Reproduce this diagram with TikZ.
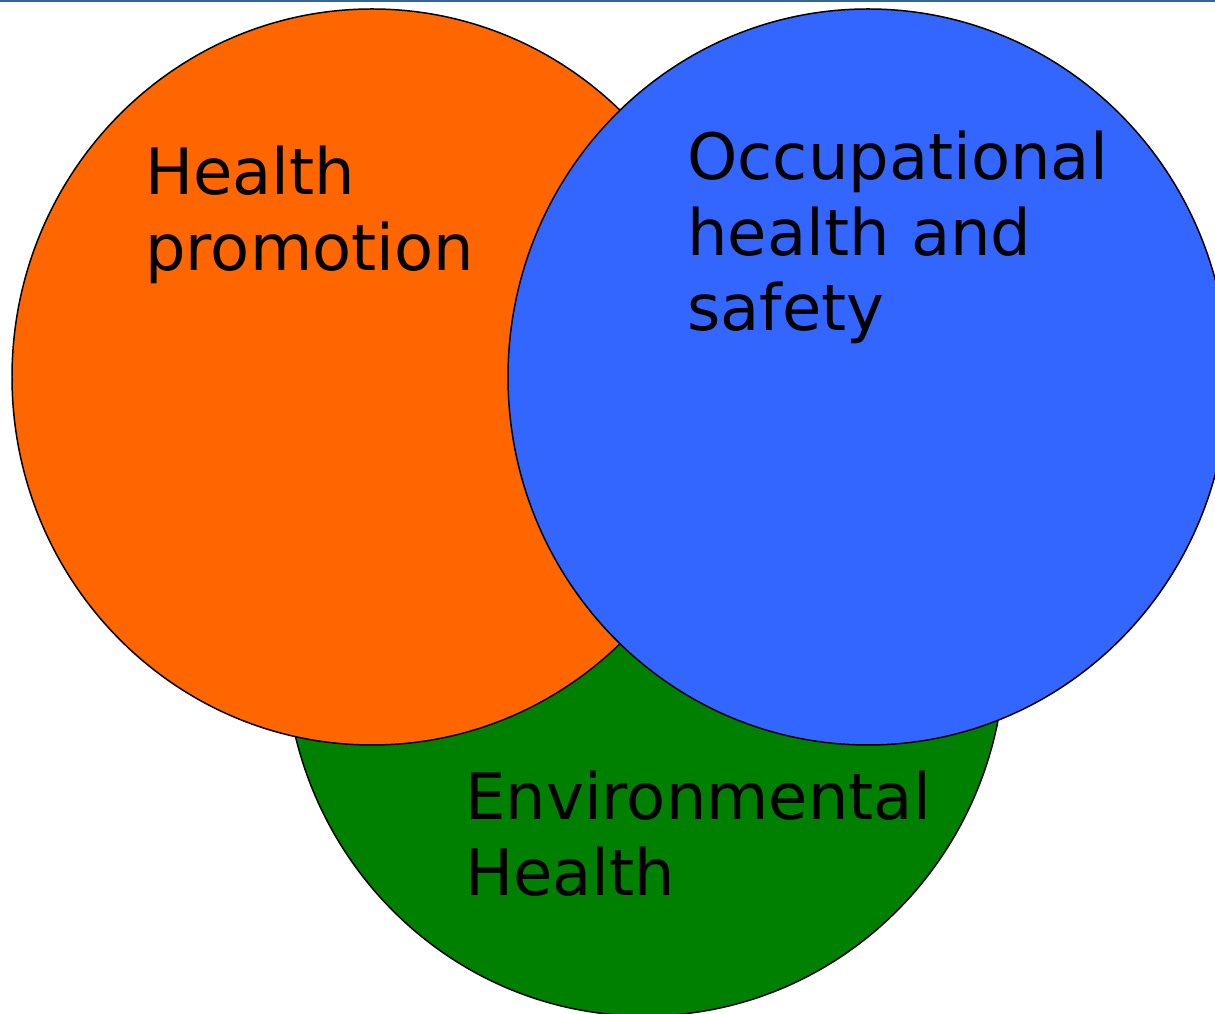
\documentclass[tikz,border=0pt]{standalone}
\usepackage{fontspec}
\setmainfont{DejaVu Sans}
\definecolor{hporange}{HTML}{FF6600}
\definecolor{ohsblue}{HTML}{3366FF}
\definecolor{ehgreen}{HTML}{008000}
\definecolor{topline}{HTML}{336699}
\begin{document}
\begin{tikzpicture}[x=0.02cm, y=0.02cm,
    venn/.style={draw=black, line width=0.85pt},
    vlabel/.style={anchor=base west, inner sep=0pt, align=left, text width=10cm,
                   font=\fontsize{36.4}{42.7}\selectfont}]
  \useasboundingbox (0,0) rectangle (1215,1014);
  \fill[topline] (0,1012) rectangle (1215,1014);
  % the three areas
  \draw[venn, fill=ehgreen] (645,366) ellipse [x radius=360, y radius=368];
  \draw[venn, fill=hporange] (372,637) ellipse [x radius=360, y radius=368];
  \draw[venn, fill=ohsblue] (868,637) ellipse [x radius=360, y radius=368];
  % labels
  \node[vlabel] (hp) at (145,819) {Health\\promotion};
  \node[vlabel] (ohs) at (687,834) {Occupational\\health and\\safety};
  \node[vlabel] (eh) at (465,194) {Environmental\\Health};
\end{tikzpicture}
\end{document}
